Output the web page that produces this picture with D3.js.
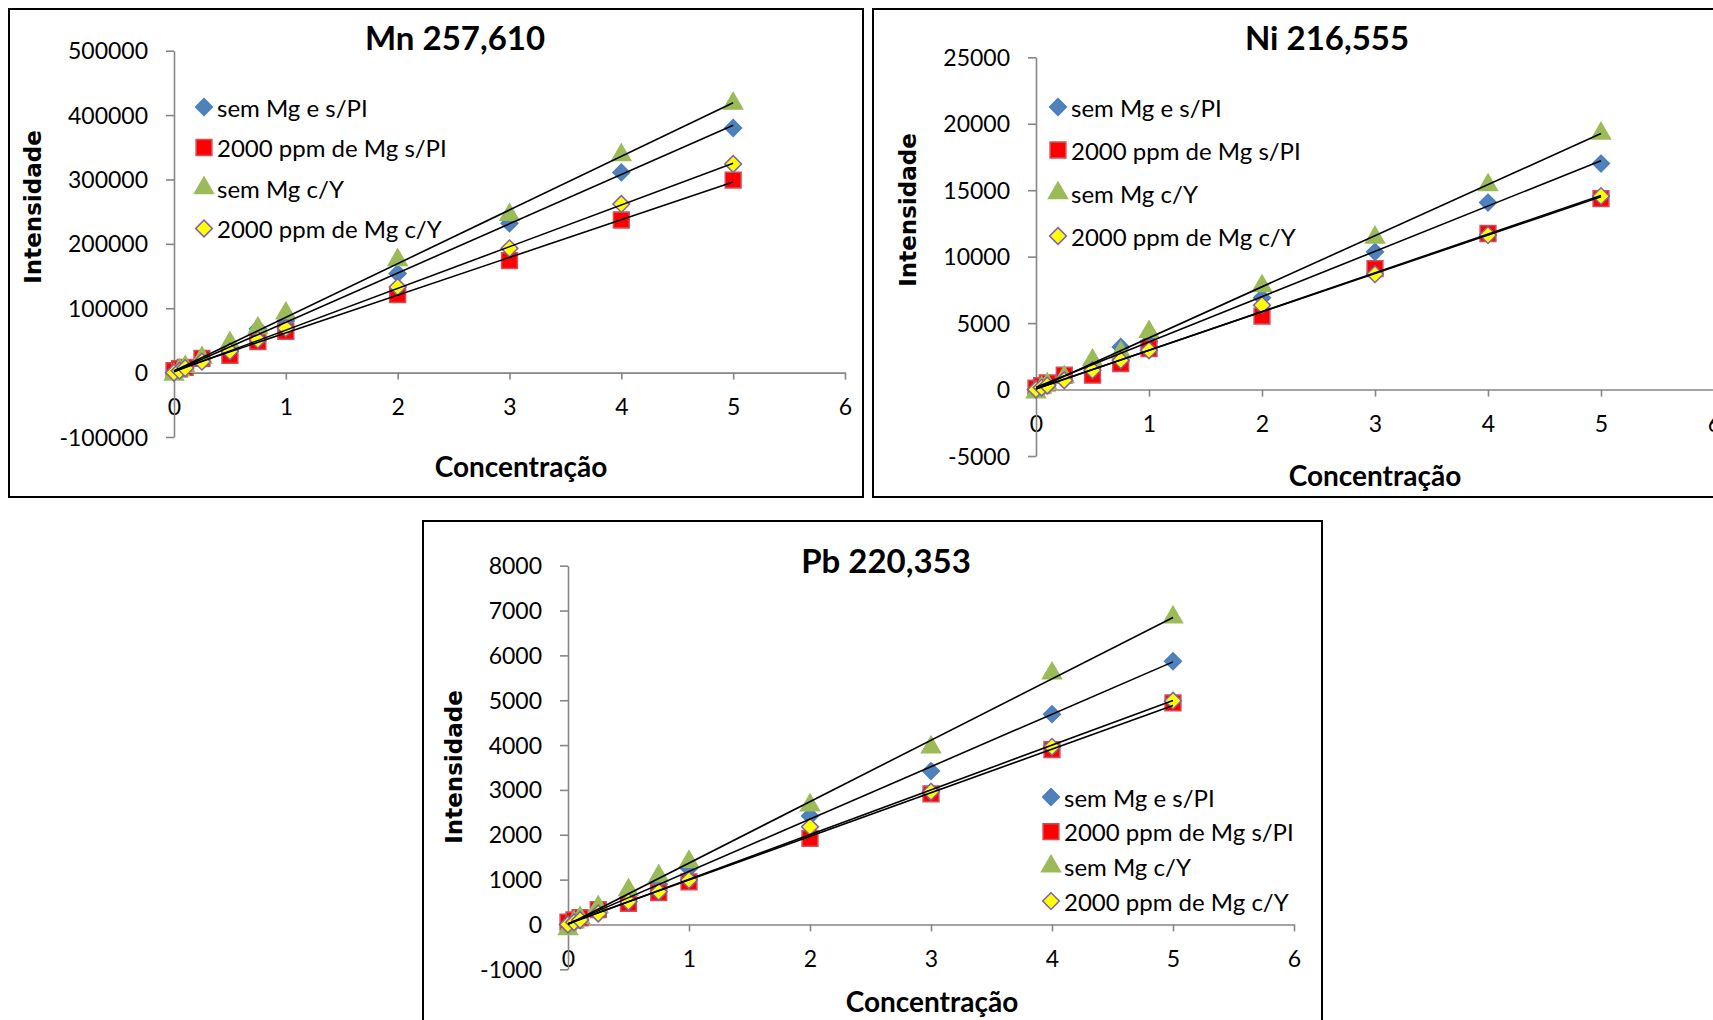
<!DOCTYPE html>
<html>
<head>
<meta charset="utf-8">
<script src="https://cdnjs.cloudflare.com/ajax/libs/d3/7.8.5/d3.min.js"></script>
<style>
  body { margin: 0; background: #fff; overflow: hidden; }
  svg { display: block; }
</style>
</head>
<body>
<svg id="chart"></svg>
<script>
// concentrations (x) shared by all series
var concentracao = [0, 0.05, 0.1, 0.25, 0.5, 0.75, 1, 2, 3, 4, 5];

var seriesNames = ["sem Mg e s/PI", "2000 ppm de Mg s/PI", "sem Mg c/Y", "2000 ppm de Mg c/Y"];

// Mn 257,610
var mnSemMgSPI   = [0, 3000, 7000, 19000, 38000, 68000, 80000, 154000, 232000, 311000, 380000];
var mnMgSPI      = [3000, 6000, 8000, 22000, 27000, 48000, 64000, 121000, 174000, 237000, 299000];
var mnSemMgY     = [-3000, 4000, 9000, 23000, 46000, 69000, 92000, 175000, 245000, 338000, 418000];
var mnMgY        = [0, 3000, 7000, 17000, 33000, 51000, 69000, 133000, 193000, 262000, 324000];

// Ni 216,555
var niSemMgSPI   = [0, 200, 400, 1000, 1900, 3200, 3600, 6900, 10360, 14070, 17000];
var niMgSPI      = [100, 300, 500, 1080, 1080, 1960, 3090, 5520, 9100, 11740, 14370];
var niSemMgY     = [-200, 150, 400, 950, 2200, 2800, 4340, 7780, 11440, 15380, 19270];
var niMgY        = [0, 150, 300, 700, 1455, 2210, 2960, 6350, 8680, 11620, 14550];

// Pb 220,353
var pbSemMgSPI   = [0, 50, 100, 300, 600, 900, 1250, 2420, 3420, 4690, 5870];
var pbMgSPI      = [50, 100, 150, 330, 470, 710, 950, 1920, 2910, 3900, 4940];
var pbSemMgY     = [-100, 50, 150, 390, 770, 1080, 1400, 2660, 3950, 5600, 6850];
var pbMgY        = [0, 50, 100, 245, 505, 730, 990, 2180, 2960, 3960, 4990];

var xTicks = [0, 1, 2, 3, 4, 5, 6];

var svg = d3.select("#chart").attr("width", 1713).attr("height", 1020);

var fontBody = "Lato, 'Open Sans', sans-serif";
var axisColor = "#868686";

// marker styles per series (diamonds are squares turned 45deg, like Excel's)
var markers = [
  {shape: d3.symbolSquare, rot: 45, fill: "#4F81BD", stroke: "#4A7EBB", size: 140},
  {shape: d3.symbolSquare, rot: 0, fill: "#FF0000", stroke: "#D0505A", size: 250},
  {shape: d3.symbolTriangle, rot: 0, fill: "#9BBB59", stroke: "#9BBB59", size: 155},
  {shape: d3.symbolSquare, rot: 45, fill: "#FFFF00", stroke: "#7F5FAF", size: 140}
];

function regression(xs, ys) {
  var mx = d3.mean(xs), my = d3.mean(ys);
  var num = d3.sum(xs, (x, i) => (x - mx) * (ys[i] - my));
  var den = d3.sum(xs, (x) => (x - mx) * (x - mx));
  var b = num / den;
  return {b: b, a: my - b * mx};
}

function drawPanel(cfg) {
  var g = svg.append("g");

  // chart frame
  g.append("rect")
    .attr("x", cfg.box[0]).attr("y", cfg.box[1])
    .attr("width", cfg.box[2]).attr("height", cfg.box[3])
    .attr("fill", "#fff").attr("stroke", "#000").attr("stroke-width", 2);

  var x = d3.scaleLinear().domain([0, 6]).range(cfg.xRange);
  var y = d3.scaleLinear().domain(cfg.yDomain).range(cfg.yRange);

  var xAxis = d3.axisBottom(x).tickValues(xTicks).tickSize(7).tickSizeOuter(0).tickPadding(19)
    .tickFormat((d) => String(d));
  var yAxis = d3.axisLeft(y).tickValues(cfg.yTicks).tickSize(8).tickSizeOuter(0).tickPadding(18)
    .tickFormat((d) => String(d));

  var gx = g.append("g").attr("transform", "translate(0," + y(0) + ")").call(xAxis);
  var gy = g.append("g").attr("transform", "translate(" + x(0) + ",0)").call(yAxis);
  [gx, gy].forEach(function(a) {
    a.selectAll("path, line").attr("stroke", axisColor).attr("stroke-width", 1.6);
    a.selectAll("text").attr("fill", "#000").style("font-family", fontBody).style("font-size", "23px");
  });
  gy.selectAll("text").attr("dy", "0.35em");

  // markers
  cfg.series.forEach(function(vals, si) {
    var m = markers[si];
    g.append("g").selectAll("path")
      .data(concentracao)
      .enter()
      .append("path")
      .attr("d", d3.symbol().type(m.shape).size(m.size))
      .attr("transform", (d, i) => "translate(" + x(d) + "," + y(vals[i]) + ") rotate(" + m.rot + ")")
      .attr("fill", m.fill)
      .attr("stroke", m.stroke)
      .attr("stroke-width", 1.5);
  });

  // linear trend lines
  cfg.series.forEach(function(vals) {
    var r = regression(concentracao, vals);
    var x0 = d3.min(concentracao), x1 = d3.max(concentracao);
    g.append("line")
      .attr("x1", x(x0)).attr("y1", y(r.a + r.b * x0))
      .attr("x2", x(x1)).attr("y2", y(r.a + r.b * x1))
      .attr("stroke", "#000").attr("stroke-width", 1.6);
  });

  // title and axis titles
  g.append("text")
    .attr("x", cfg.title[0]).attr("y", cfg.title[1])
    .attr("text-anchor", "middle").attr("dominant-baseline", "central")
    .style("font-family", fontBody).style("font-weight", "bold").style("font-size", "33px")
    .text(cfg.name);

  g.append("text")
    .attr("transform", "translate(" + cfg.yLabel[0] + "," + cfg.yLabel[1] + ") rotate(-90)")
    .attr("text-anchor", "middle").attr("dominant-baseline", "central")
    .style("font-family", "'DejaVu Sans', Verdana, sans-serif").style("font-weight", "bold").style("font-size", "23px")
    .text("Intensidade");

  g.append("text")
    .attr("x", cfg.xLabel[0]).attr("y", cfg.xLabel[1])
    .attr("text-anchor", "middle").attr("dominant-baseline", "central")
    .style("font-family", fontBody).style("font-weight", "bold").style("font-size", "28px")
    .text("Concentração");

  // legend
  var lg = g.append("g");
  seriesNames.forEach(function(name, si) {
    var m = markers[si];
    var ly = cfg.legend[1] + si * cfg.legend[2];
    lg.append("path")
      .attr("d", d3.symbol().type(m.shape).size(m.size))
      .attr("transform", "translate(" + cfg.legend[0] + "," + ly + ") rotate(" + m.rot + ")")
      .attr("fill", m.fill).attr("stroke", m.stroke).attr("stroke-width", 1.5);
    lg.append("text")
      .attr("x", cfg.legend[0] + 13).attr("y", ly)
      .attr("dominant-baseline", "central")
      .style("font-family", fontBody).style("font-size", "24px")
      .text(name);
  });
}

drawPanel({
  name: "Mn 257,610",
  box: [9, 9, 854, 488],
  xRange: [174, 845],
  yDomain: [-100000, 500000], yRange: [437, 50.7],
  yTicks: [-100000, 0, 100000, 200000, 300000, 400000, 500000],
  series: [mnSemMgSPI, mnMgSPI, mnSemMgY, mnMgY],
  title: [455, 37], yLabel: [33, 207], xLabel: [521, 466],
  legend: [204, 107, 40.5]
});

drawPanel({
  name: "Ni 216,555",
  box: [873, 9, 900, 488],
  xRange: [1036, 1714],
  yDomain: [-5000, 25000], yRange: [456, 57.3],
  yTicks: [-5000, 0, 5000, 10000, 15000, 20000, 25000],
  series: [niSemMgSPI, niMgSPI, niSemMgY, niMgY],
  title: [1327, 37], yLabel: [908, 210], xLabel: [1375, 475],
  legend: [1058, 107, 43]
});

drawPanel({
  name: "Pb 220,353",
  box: [423, 521, 899, 600],
  xRange: [568, 1294],
  yDomain: [-1000, 8000], yRange: [969.3, 565.7],
  yTicks: [-1000, 0, 1000, 2000, 3000, 4000, 5000, 6000, 7000, 8000],
  series: [pbSemMgSPI, pbMgSPI, pbSemMgY, pbMgY],
  title: [886, 560], yLabel: [454, 767], xLabel: [932, 1001],
  legend: [1051, 797, 34.7]
});
</script>
</body>
</html>
